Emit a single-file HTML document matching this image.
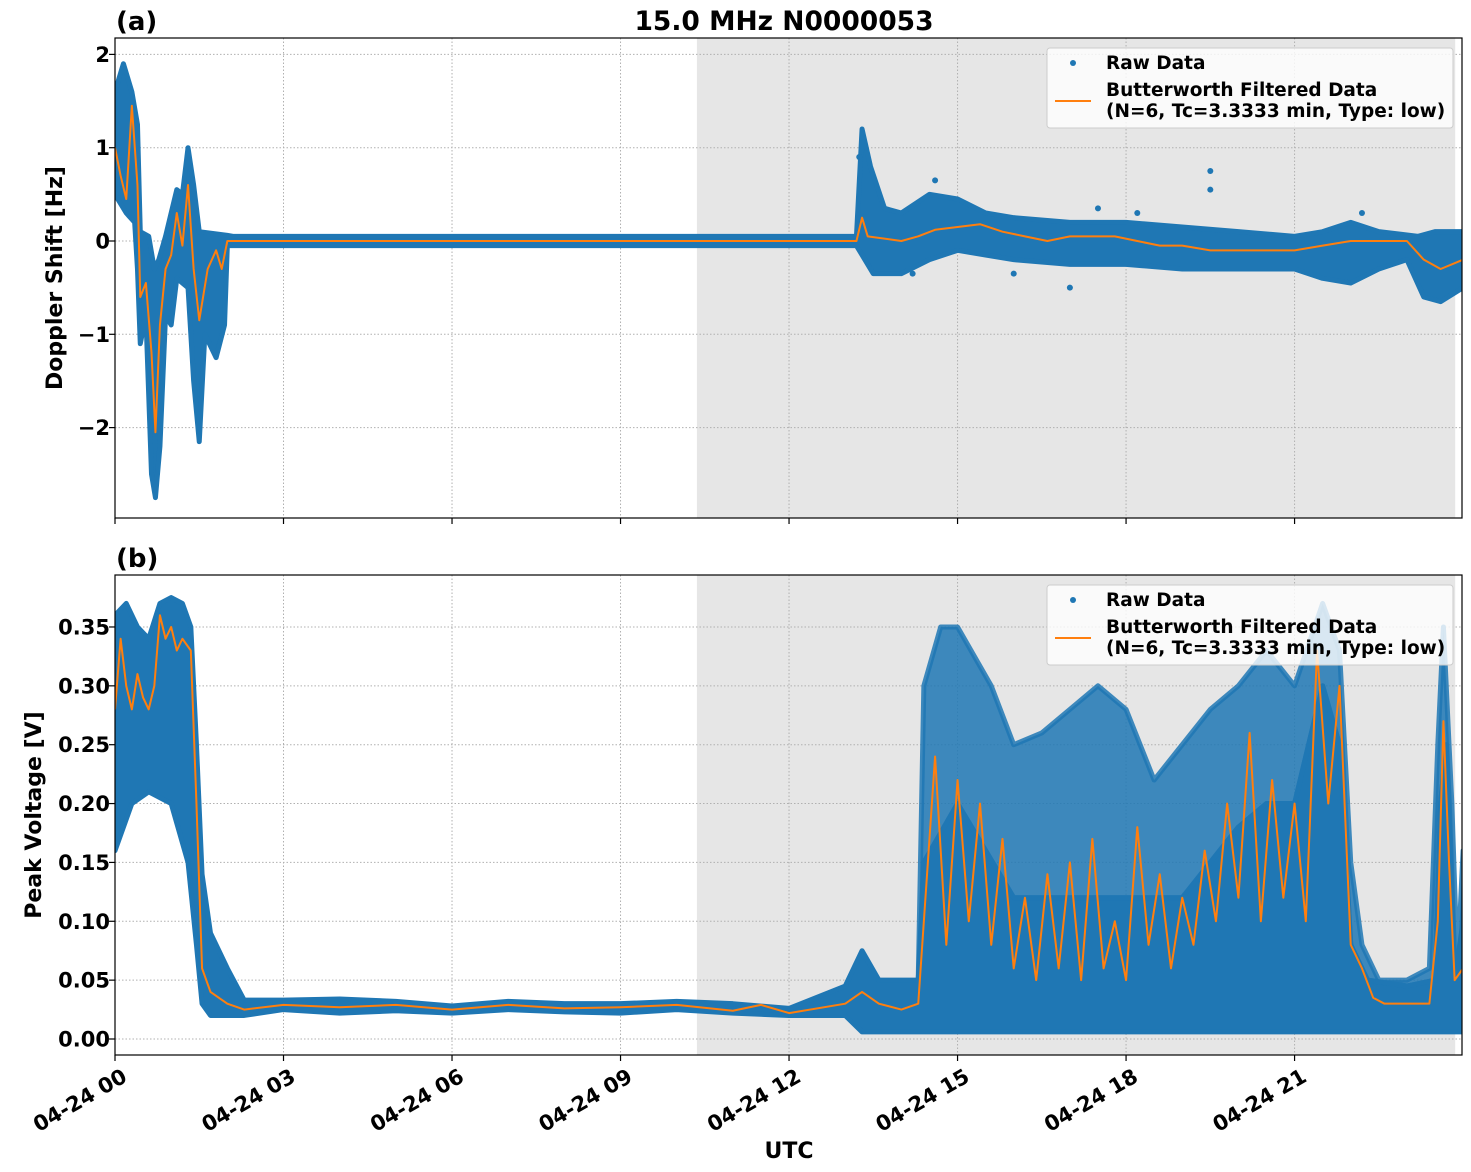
<!DOCTYPE html>
<html><head><meta charset="utf-8">
<style>
html,body{margin:0;padding:0;background:#fff;}
svg{display:block;font-family:"DejaVu Sans","Liberation Sans",sans-serif;font-weight:bold;}
</style></head>
<body>
<svg id="chart" width="1471" height="1172" viewBox="0 0 1471 1172" xmlns="http://www.w3.org/2000/svg">
<text x="784" y="30" font-size="26.5" text-anchor="middle">15.0 MHz N0000053</text>
<text x="116" y="30" font-size="26">(a)</text>
<text x="116" y="567" font-size="26">(b)</text>
<text x="789" y="1158" font-size="22" text-anchor="middle">UTC</text>
<text transform="translate(62,278) rotate(-90)" font-size="22" text-anchor="middle">Doppler Shift [Hz]</text>
<text transform="translate(41,815) rotate(-90)" font-size="22" text-anchor="middle">Peak Voltage [V]</text>
<g id="layer"></g>
</svg>
<script>
// ---- data (hours since 04-24 00 UTC) ----
const xTickHours = [0,3,6,9,12,15,18,21];
const xTickLabels = ["04-24 00","04-24 03","04-24 06","04-24 09","04-24 12","04-24 15","04-24 18","04-24 21"];
const nightSpan = [10.36, 23.86];
const yTicksA = [2,1,0,-1,-2];
const yTickLabelsA = ["2","1","0","\u22121","\u22122"];
const yTicksB = [0,0.05,0.1,0.15,0.2,0.25,0.3,0.35];
const yTickLabelsB = ["0.00","0.05","0.10","0.15","0.20","0.25","0.30","0.35"];

const rawMaxA = [[0,1.6],[0.15,1.9],[0.3,1.6],[0.4,1.25],[0.45,0.1],[0.6,0.05],[0.7,-0.3],[0.78,-0.2],[0.9,0.05],[1.0,0.3],[1.1,0.55],[1.2,0.5],[1.3,1.0],[1.4,0.6],[1.5,0.1],[2.0,0.06],[2.1,0.05],[13.2,0.05],[13.3,1.2],[13.45,0.8],[13.7,0.35],[14.0,0.3],[14.5,0.5],[15.0,0.45],[15.5,0.3],[16,0.25],[17,0.2],[18,0.2],[19,0.15],[20,0.1],[21,0.05],[21.5,0.1],[22,0.2],[22.5,0.1],[23.2,0.05],[23.5,0.1],[24,0.1]];
const rawMinA = [[0,0.5],[0.2,0.3],[0.35,0.2],[0.4,-0.3],[0.45,-1.1],[0.55,-0.8],[0.65,-2.5],[0.72,-2.75],[0.8,-2.2],[0.9,-0.8],[1.0,-0.9],[1.1,-0.4],[1.3,-0.5],[1.4,-1.5],[1.5,-2.15],[1.6,-1.0],[1.8,-1.25],[1.95,-0.9],[2.0,-0.05],[13.2,-0.05],[13.5,-0.35],[14,-0.35],[14.5,-0.2],[15,-0.1],[15.5,-0.15],[16,-0.2],[17,-0.25],[18,-0.25],[19,-0.3],[20,-0.3],[21,-0.3],[21.5,-0.4],[22,-0.45],[22.5,-0.3],[23,-0.2],[23.3,-0.6],[23.6,-0.65],[24,-0.5]];
const outliersA = [[13.25,0.9],[14.6,0.65],[19.5,0.75],[19.5,0.55],[17.0,-0.5],[16.0,-0.35],[17.5,0.35],[18.2,0.3],[22.2,0.3],[14.2,-0.35]];
const filtA = [[0,1.0],[0.1,0.7],[0.2,0.45],[0.3,1.45],[0.4,0.6],[0.45,-0.6],[0.55,-0.45],[0.65,-1.2],[0.72,-2.05],[0.8,-0.9],[0.9,-0.3],[1.0,-0.15],[1.1,0.3],[1.2,-0.05],[1.3,0.6],[1.4,-0.3],[1.5,-0.85],[1.65,-0.3],[1.8,-0.1],[1.9,-0.3],[2.0,0.0],[13.2,0.0],[13.3,0.25],[13.4,0.05],[14,0.0],[14.3,0.05],[14.6,0.12],[15,0.15],[15.4,0.18],[15.8,0.1],[16.2,0.05],[16.6,0.0],[17,0.05],[17.4,0.05],[17.8,0.05],[18.2,0.0],[18.6,-0.05],[19,-0.05],[19.5,-0.1],[20,-0.1],[20.5,-0.1],[21,-0.1],[21.5,-0.05],[22,0.0],[23,0.0],[23.3,-0.2],[23.6,-0.3],[24,-0.2]];

const rawMinB = [[0,0.16],[0.3,0.2],[0.6,0.21],[1.0,0.2],[1.3,0.15],[1.45,0.08],[1.55,0.03],[1.7,0.02],[2.3,0.02],[3,0.025],[4,0.022],[5,0.024],[6,0.022],[7,0.025],[8,0.023],[9,0.022],[10,0.025],[11,0.022],[12,0.02],[13,0.02],[13.3,0.006],[14.3,0.006],[24,0.006]];
const rawDenseB = [[0,0.36],[0.2,0.37],[0.4,0.35],[0.6,0.34],[0.8,0.37],[1.0,0.375],[1.2,0.37],[1.35,0.35],[1.45,0.25],[1.55,0.14],[1.7,0.09],[2.0,0.06],[2.3,0.033],[3,0.033],[4,0.034],[5,0.032],[6,0.028],[7,0.032],[8,0.03],[9,0.03],[10,0.032],[11,0.03],[12,0.026],[13,0.045],[13.3,0.075],[13.6,0.05],[14.3,0.05],[14.4,0.15],[15,0.2],[16,0.12],[17,0.12],[18,0.12],[19,0.12],[20,0.18],[20.5,0.2],[21,0.2],[21.5,0.3],[21.8,0.25],[22,0.08],[22.3,0.05],[23,0.045],[23.5,0.05],[23.6,0.2],[23.7,0.25],[23.85,0.05],[24,0.1]];
const rawMaxB = [[14.3,0.05],[14.4,0.3],[14.7,0.35],[15,0.35],[15.6,0.3],[16,0.25],[16.5,0.26],[17,0.28],[17.5,0.3],[18,0.28],[18.5,0.22],[19,0.25],[19.5,0.28],[20,0.3],[20.5,0.33],[21,0.3],[21.5,0.37],[21.8,0.33],[22.0,0.15],[22.2,0.08],[22.5,0.05],[23,0.05],[23.4,0.06],[23.55,0.25],[23.65,0.35],[23.8,0.2],[23.9,0.06],[24,0.16]];
const filtB = [[0,0.28],[0.1,0.34],[0.2,0.3],[0.3,0.28],[0.4,0.31],[0.5,0.29],[0.6,0.28],[0.7,0.3],[0.8,0.36],[0.9,0.34],[1.0,0.35],[1.1,0.33],[1.2,0.34],[1.35,0.33],[1.45,0.2],[1.55,0.06],[1.7,0.04],[2.0,0.03],[2.3,0.025],[3,0.029],[4,0.027],[5,0.029],[6,0.025],[7,0.029],[8,0.026],[9,0.027],[10,0.029],[11,0.024],[11.5,0.029],[12,0.022],[13,0.03],[13.3,0.04],[13.6,0.03],[14.0,0.025],[14.3,0.03],[14.4,0.1],[14.6,0.24],[14.8,0.08],[15.0,0.22],[15.2,0.1],[15.4,0.2],[15.6,0.08],[15.8,0.17],[16.0,0.06],[16.2,0.12],[16.4,0.05],[16.6,0.14],[16.8,0.06],[17.0,0.15],[17.2,0.05],[17.4,0.17],[17.6,0.06],[17.8,0.1],[18.0,0.05],[18.2,0.18],[18.4,0.08],[18.6,0.14],[18.8,0.06],[19.0,0.12],[19.2,0.08],[19.4,0.16],[19.6,0.1],[19.8,0.2],[20.0,0.12],[20.2,0.26],[20.4,0.1],[20.6,0.22],[20.8,0.12],[21.0,0.2],[21.2,0.1],[21.4,0.33],[21.6,0.2],[21.8,0.3],[22.0,0.08],[22.2,0.06],[22.4,0.035],[22.6,0.03],[22.8,0.03],[23.0,0.03],[23.2,0.03],[23.4,0.03],[23.55,0.1],[23.65,0.27],[23.75,0.15],[23.85,0.05],[24,0.06]];

// ---- geometry ----
const X0=115, X1=1462, PXH=56.17;
const xs = t => X0 + t*PXH;
const A = {top:38,bottom:518, y:v=>241 - v*93.3};
const B = {top:575,bottom:1055, y:v=>1039 - v/0.05*58.86};
const NS="http://www.w3.org/2000/svg";
const layer=document.getElementById('layer');
function mk(tag,attrs,parent){const e=document.createElementNS(NS,tag);for(const k in attrs)e.setAttribute(k,attrs[k]);(parent||layer).appendChild(e);return e;}
const BLUE="#1f77b4", ORANGE="#ff7f0e";

function panel(P,name,rawSets,outliers,filt,yt,ytl,showXLabels){
  const g=mk('g',{});
  
  
  const clip=mk('clipPath',{id:'clip-'+name},g);
  mk('rect',{x:X0,y:P.top,width:X1-X0,height:P.bottom-P.top},clip);
  const sh=mk('rect',{x:xs(nightSpan[0]),y:P.top,width:xs(nightSpan[1])-xs(nightSpan[0]),height:P.bottom-P.top,fill:'#e6e6e6'},g);
  
  
  xTickHours.forEach(h=>{mk('line',{x1:xs(h),x2:xs(h),y1:P.top,y2:P.bottom,stroke:'#b0b0b0','stroke-width':1,'stroke-dasharray':'1.5,2'},g);});
  yt.forEach(v=>{mk('line',{x1:X0,x2:X1,y1:P.y(v),y2:P.y(v),stroke:'#b0b0b0','stroke-width':1,'stroke-dasharray':'1.5,2'},g);});
  const cg=mk('g',{'clip-path':'url(#clip-'+name+')'},g);
  rawSets.forEach(s=>{
    const pts=s.hi.map(p=>xs(p[0])+','+P.y(p[1])).concat(s.lo.slice().reverse().map(p=>xs(p[0])+','+P.y(p[1])));
    const poly=mk('polygon',{points:pts.join(' '),fill:BLUE,stroke:BLUE,'stroke-width':5,'stroke-linejoin':'round','fill-opacity':s.op,'stroke-opacity':s.op},cg);
    
    
  });
  outliers.forEach(p=>{
    const c=mk('circle',{cx:xs(p[0]),cy:P.y(p[1]),r:3,fill:BLUE},cg);
    
    
  });
  const fl=mk('polyline',{points:filt.map(p=>xs(p[0])+','+P.y(p[1])).join(' '),fill:'none',stroke:ORANGE,'stroke-width':2,'stroke-linejoin':'round'},cg);
  
  
  mk('rect',{x:X0,y:P.top,width:X1-X0,height:P.bottom-P.top,fill:'none',stroke:'#000','stroke-width':1.2},g);
  yt.forEach((v,i)=>{
    mk('line',{x1:X0-6,x2:X0,y1:P.y(v),y2:P.y(v),stroke:'#000','stroke-width':1.2},g);
    const t=mk('text',{x:X0-5,y:P.y(v)+7.5,'font-size':21,'text-anchor':'end'},g);
    t.textContent=ytl[i];
    
    
  });
  xTickHours.forEach((h,i)=>{
    mk('line',{x1:xs(h),x2:xs(h),y1:P.bottom,y2:P.bottom+6,stroke:'#000','stroke-width':1.2},g);
    if(showXLabels){
      const t=mk('text',{transform:`translate(${xs(h)+5},${P.bottom+11}) rotate(-30)`,'font-size':21,'text-anchor':'end',dy:'0.8em'},g);
      t.textContent=xTickLabels[i];
      
      
    }
  });
  const ly=P.top+10;
  const lg=mk('g',{},g);
  
  
  mk('rect',{x:1047,y:ly,width:406,height:80,rx:3,fill:'#fff','fill-opacity':0.8,stroke:'#ccc'},lg);
  mk('circle',{cx:1073,cy:ly+15,r:3,fill:BLUE},lg);
  const t1=mk('text',{x:1106,y:ly+21,'font-size':18.5},lg);t1.textContent='Raw Data';
  
  
  mk('line',{x1:1055,x2:1091,y1:ly+53,y2:ly+53,stroke:ORANGE,'stroke-width':2},lg);
  const t2=mk('text',{x:1106,y:ly+48,'font-size':18.5},lg);t2.textContent='Butterworth Filtered Data';
  
  
  const t3=mk('text',{x:1106,y:ly+69,'font-size':18.5},lg);t3.textContent='(N=6, Tc=3.3333 min, Type: low)';
  
  
}
panel(A,'doppler-panel',[{hi:rawMaxA,lo:rawMinA,op:1}],outliersA,filtA,yTicksA,yTickLabelsA,false);
panel(B,'voltage-panel',[{hi:rawMaxB,lo:rawDenseB.filter(p=>p[0]>=14.3),op:0.85},{hi:rawDenseB,lo:rawMinB,op:1}],[],filtB,yTicksB,yTickLabelsB,true);
</script>
</body></html>
